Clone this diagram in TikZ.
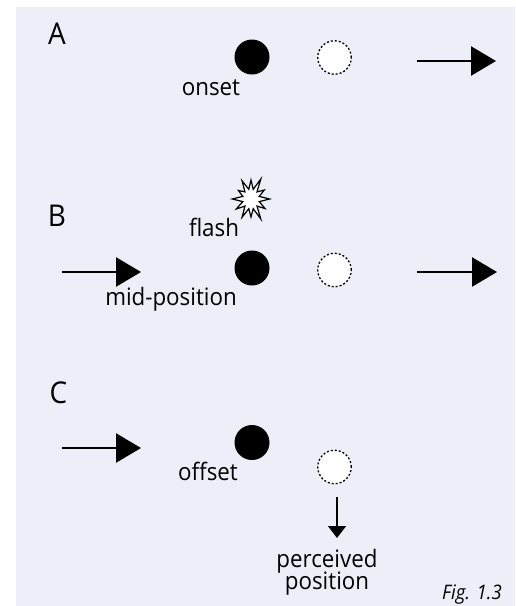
\documentclass[tikz,border=0pt]{standalone}
\usepackage{fontspec}
\setmainfont{Open Sans}[FakeStretch=0.93]
\usetikzlibrary{arrows.meta}
\definecolor{panelbg}{RGB}{237,238,248}
\begin{document}
\begin{tikzpicture}[x=1pt,y=-1pt,
  txt/.style={font=\fontsize{24}{24}\selectfont, inner sep=0pt, anchor=base},
  panel/.style={font=\fontsize{30}{30}\selectfont, inner sep=0pt, anchor=base},
  dot/.style={circle, fill=black, minimum size=35pt, inner sep=0pt},
  ghost/.style={circle, draw=black, fill=white, line width=1.3pt,
    dash pattern=on 2pt off 2pt, minimum size=33.5pt, inner sep=0pt},
  motion/.style={line width=2.6pt, -{Triangle[length=25pt,width=29pt]}},
  drop/.style={line width=1.3pt, -{Triangle[length=12pt,width=18pt]}}]

% page and shaded panel
\useasboundingbox (0,0) rectangle (515,606);
\fill[panelbg] (16,7) rectangle (515,606);

% ---- A: onset ----
\node[panel] (la) at (57,44.5) {A};
\node[dot] (a1) at (252,57) {};
\node[ghost] (a2) at (334.5,57.5) {};
\node[txt] (onset) at (211,95) {onset};
\coordinate (ar1s) at (417,61);
\coordinate (ar1e) at (496,61);
\draw[motion] (ar1s) -- (ar1e);

% ---- B: flash at mid-position ----
\node[panel] (lb) at (57,226) {B};
\begin{scope}[shift={(251,199)}, xscale=0.85]
  \draw[fill=white, line width=1.2pt, line join=miter]
    (0:22) -- (15:10) -- (30:19) -- (45:10) -- (60:23) -- (75:10) --
    (90:18) -- (105:10) -- (120:21) -- (135:10) -- (150:20) -- (165:10) --
    (180:22) -- (195:10) -- (210:17) -- (225:10) -- (240:21) -- (255:10) --
    (270:19) -- (285:10) -- (300:23) -- (315:10) -- (330:18) -- (345:10) -- cycle;
\end{scope}
\node[txt] (flash) at (214,236) {flash};
\node[dot] (b1) at (252,268) {};
\node[ghost] (b2) at (334.5,270) {};
\node[txt] (mid) at (171,305) {mid-position};
\coordinate (bl1) at (62,272);
\coordinate (bl2) at (141,272);
\draw[motion] (bl1) -- (bl2);
\coordinate (br1) at (417,272);
\coordinate (br2) at (497,272);
\draw[motion] (br1) -- (br2);

% ---- C: offset ----
\node[panel] (lc) at (58.5,403.5) {C};
\coordinate (cl1) at (62,448);
\coordinate (cl2) at (141,448);
\draw[motion] (cl1) -- (cl2);
\node[dot] (c1) at (252,442.5) {};
\node[txt] (offset) at (208,480) {offset};
\node[ghost] (c2) at (334.5,467) {};
\coordinate (cd1) at (337,497);
\coordinate (cd2) at (337,538);
\draw[drop] (cd1) -- (cd2);
\node[txt] (perc1) at (327,567) {perceived};
\node[txt] (perc2) at (327,589) {position};

\node[font=\fontsize{20}{20}\selectfont\itshape, inner sep=0pt, anchor=base] (fig) at (472,599) {Fig. 1.3};
\end{tikzpicture}
\end{document}
